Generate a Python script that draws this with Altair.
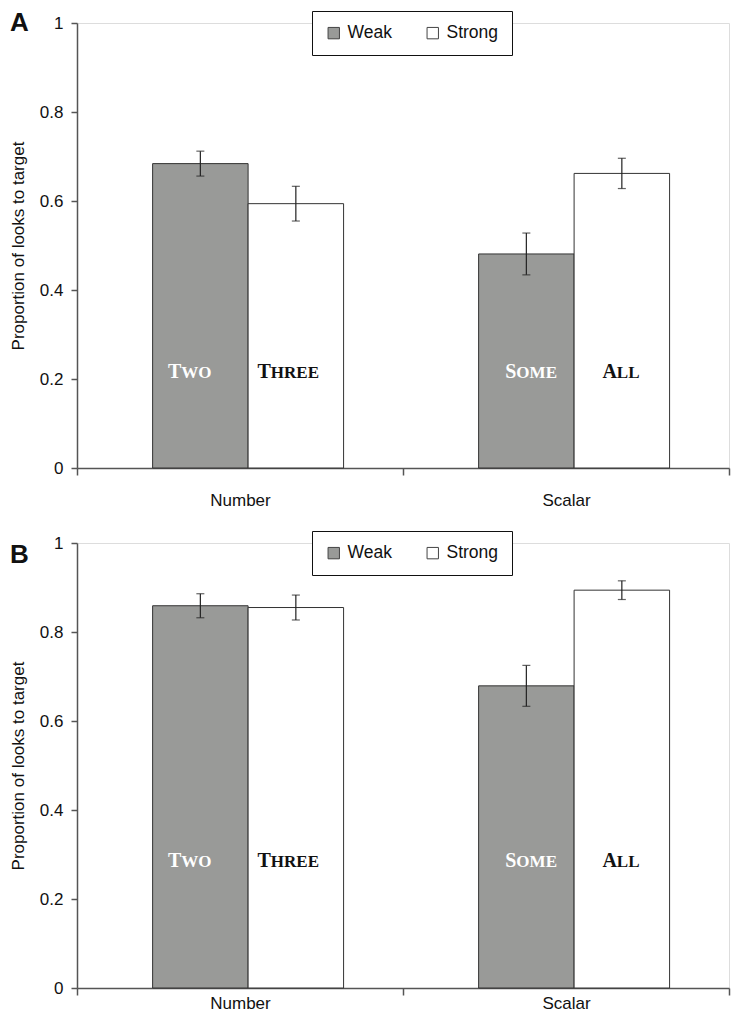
import altair as alt
import pandas as pd

# ---------------- data ----------------
categories = ["Number", "Scalar"]
strengths = ["Weak", "Strong"]
cond_category = ["Number", "Number", "Scalar", "Scalar"]
cond_strength = ["Weak", "Strong", "Weak", "Strong"]
word_first = ["T", "T", "S", "A"]
word_rest = ["WO", "HREE", "OME", "LL"]

panel_a_values = [0.684, 0.594, 0.481, 0.662]
panel_a_errors = [0.028, 0.039, 0.047, 0.034]
panel_b_values = [0.859, 0.855, 0.679, 0.894]
panel_b_errors = [0.027, 0.028, 0.046, 0.021]

y_ticks = [0, 0.2, 0.4, 0.6, 0.8, 1]

# ---------------- styles ----------------
SANS = "Liberation Sans"
SERIF = "Liberation Serif"
bar_colors = ["#999a98", "#ffffff"]
word_colors = ["#ffffff", "#111111", "#ffffff", "#111111"]
word_dx = [-19, -25, -10, -5]
W, H = 652, 445


def panel(letter, values, errors, word_y, letter_y, x_label_pad):
    df = pd.DataFrame({
        "idx": list(range(4)),
        "category": cond_category,
        "strength": cond_strength,
        "value": values,
        "err": errors,
        "first": word_first,
        "rest": word_rest,
    })
    df["lo"] = df["value"] - df["err"]
    df["hi"] = df["value"] + df["err"]

    x_enc = alt.X(
        "category:N",
        sort=categories,
        scale=alt.Scale(domain=categories, paddingInner=0, paddingOuter=0),
        axis=alt.Axis(
            title=None, labelAngle=0, tickBand="extent", tickSize=7,
            labelPadding=x_label_pad, labelFontSize=17, labelFont=SANS,
            labelColor="#111", domainColor="#555", domainWidth=1.5,
            tickColor="#555", tickWidth=1.5,
        ),
    )
    xo_enc = alt.XOffset(
        "strength:N",
        sort=strengths,
        scale=alt.Scale(domain=strengths, paddingInner=0, paddingOuter=0.707,
                        align=0.56),
    )
    base = alt.Chart(df).encode(x=x_enc, xOffset=xo_enc)

    bars = base.mark_bar(stroke="#333", strokeWidth=1).encode(
        y=alt.Y(
            "value:Q",
            scale=alt.Scale(domain=[0, 1]),
            axis=alt.Axis(
                values=y_ticks, format=".1~f", grid=False, tickSize=6,
                labelPadding=8, labelFontSize=17, labelFont=SANS, labelColor="#111",
                title="Proportion of looks to target", titleFontSize=17,
                titleFont=SANS, titleFontWeight="normal", titleColor="#111",
                titlePadding=12, domainColor="#555", domainWidth=1.5,
                tickColor="#555", tickWidth=1.5,
            ),
        ),
        color=alt.Color(
            "strength:N",
            sort=strengths,
            scale=alt.Scale(domain=strengths, range=bar_colors),
            legend=alt.Legend(
                orient="none", legendX=235, legendY=-12, direction="horizontal",
                title=None, strokeColor="#111", fillColor="#ffffff", padding=13,
                symbolType="square", symbolSize=130, symbolStrokeColor="#444",
                symbolStrokeWidth=1, symbolOpacity=1, labelFontSize=17.5,
                labelFont=SANS, labelColor="#111", columnPadding=32, labelOffset=5,
            ),
        ),
    )
    rules = base.mark_rule(color="#222", strokeWidth=1.2).encode(
        y="lo:Q", y2="hi:Q"
    )
    cap_hi = base.mark_tick(color="#222", size=8, thickness=1.2).encode(y="hi:Q")
    cap_lo = base.mark_tick(color="#222", size=8, thickness=1.2).encode(y="lo:Q")

    layers = [bars, rules, cap_hi, cap_lo]
    for i in range(4):
        sub = base.transform_filter(alt.datum.idx == i)
        layers.append(
            sub.mark_text(
                align="right", baseline="alphabetic", font=SERIF,
                fontWeight="bold", fontSize=20, dx=word_dx[i], color=word_colors[i],
            ).encode(y=alt.value(word_y), text="first:N")
        )
        layers.append(
            sub.mark_text(
                align="left", baseline="alphabetic", font=SERIF,
                fontWeight="bold", fontSize=17, dx=word_dx[i], color=word_colors[i],
            ).encode(y=alt.value(word_y), text="rest:N")
        )

    letter_layer = alt.Chart(pd.DataFrame({"letter": [letter]})).mark_text(
        align="left", baseline="alphabetic", font=SANS, fontWeight="bold",
        fontSize=26, color="#111",
    ).encode(x=alt.value(-67), y=alt.value(letter_y), text="letter:N")
    layers.append(letter_layer)

    return alt.layer(*layers).properties(width=W, height=H)


chart = (
    alt.vconcat(
        panel("A", panel_a_values, panel_a_errors, 355, 8, 17),
        panel("B", panel_b_values, panel_b_errors, 324, 20, 0),
        spacing=21,
    )
    .resolve_scale(color="independent")
    .resolve_legend(color="independent")
    .properties(padding={"left": 0, "top": 1, "right": 0, "bottom": 0})
    .configure_view(stroke=None)
    .configure(background="white")
)

chart.save("out.html", embed_options={"renderer": "svg", "actions": False})
